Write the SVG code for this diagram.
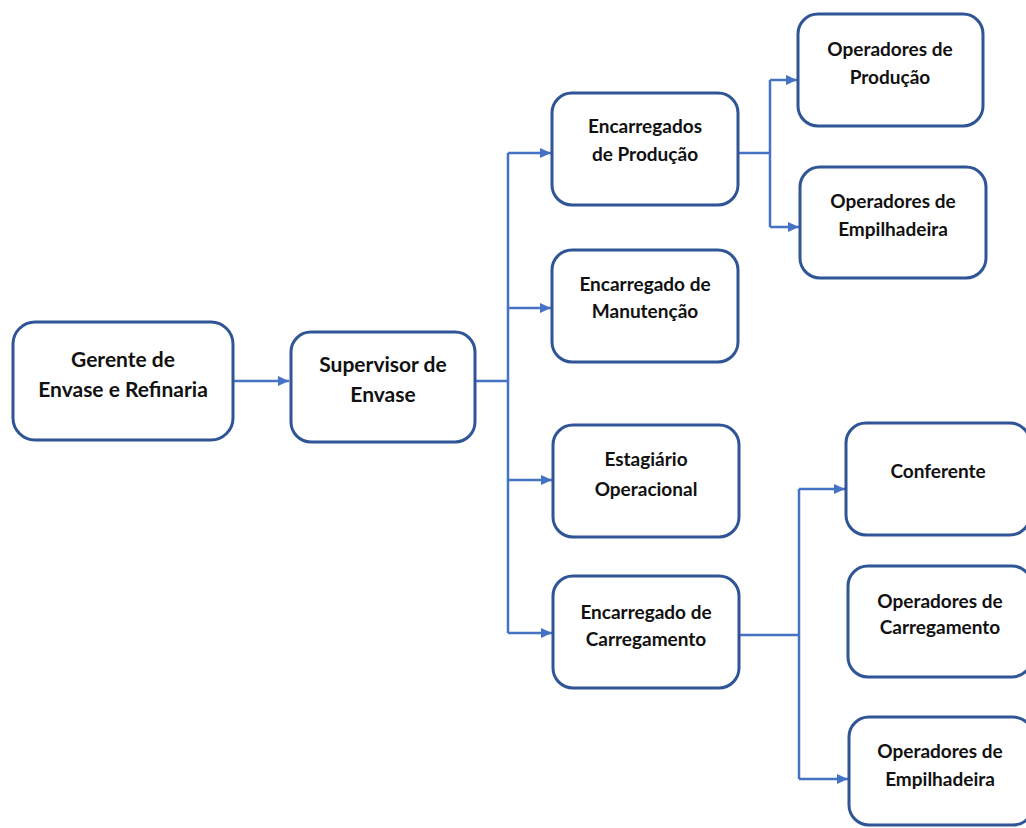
<svg xmlns="http://www.w3.org/2000/svg" width="1026" height="828" viewBox="0 0 1026 828">
<defs>
<style>
.box{fill:#fff;stroke:#2F5597;stroke-width:3}
.t{font-family:Lato,"Liberation Sans",sans-serif;font-weight:bold;font-size:19px;fill:#111;text-anchor:middle}
.tb{font-size:21px}
.c{fill:none;stroke:#4472C4;stroke-width:2.5}
</style>
<marker id="ah" markerUnits="userSpaceOnUse" markerWidth="12" markerHeight="10" refX="11" refY="5" orient="auto">
<path d="M0,0 L11,5 L0,10 Z" fill="#4472C4"/>
</marker>
</defs>
<rect width="1026" height="828" fill="#fff"/>
<g id="connectors">
<path class="c" d="M233,381 H289" marker-end="url(#ah)"/>
<path class="c" d="M475,381 H508"/>
<path class="c" d="M508,153 V633"/>
<path class="c" d="M508,153 H551" marker-end="url(#ah)"/>
<path class="c" d="M508,308 H551" marker-end="url(#ah)"/>
<path class="c" d="M508,480 H552" marker-end="url(#ah)"/>
<path class="c" d="M508,633 H552" marker-end="url(#ah)"/>
<path class="c" d="M738,153 H770"/>
<path class="c" d="M770,80 V227"/>
<path class="c" d="M770,80 H797" marker-end="url(#ah)"/>
<path class="c" d="M770,227 H799" marker-end="url(#ah)"/>
<path class="c" d="M739,635 H799"/>
<path class="c" d="M799,489 V779"/>
<path class="c" d="M799,489 H845" marker-end="url(#ah)"/>
<path class="c" d="M799,779 H848" marker-end="url(#ah)"/>
</g>
<g id="gerente">
<rect class="box" x="13" y="322" width="220" height="118" rx="22"/>
<text class="t tb" x="123" y="367">Gerente de</text>
<text class="t tb" x="123" y="397">Envase e Refinaria</text>
</g>
<g id="supervisor">
<rect class="box" x="291" y="332" width="184" height="110" rx="20"/>
<text class="t tb" x="383" y="372">Supervisor de</text>
<text class="t tb" x="383" y="402">Envase</text>
</g>
<g id="enc-producao">
<rect class="box" x="552" y="93" width="186" height="112" rx="20"/>
<text class="t" x="645" y="133">Encarregados</text>
<text class="t" x="645" y="161">de Produção</text>
</g>
<g id="enc-manutencao">
<rect class="box" x="552" y="250" width="186" height="112" rx="20"/>
<text class="t" x="645" y="291">Encarregado de</text>
<text class="t" x="645" y="318">Manutenção</text>
</g>
<g id="estagiario">
<rect class="box" x="553" y="425" width="186" height="112" rx="20"/>
<text class="t" x="646" y="466">Estagiário</text>
<text class="t" x="646" y="496">Operacional</text>
</g>
<g id="enc-carregamento">
<rect class="box" x="553" y="576" width="186" height="112" rx="20"/>
<text class="t" x="646" y="619">Encarregado de</text>
<text class="t" x="646" y="646">Carregamento</text>
</g>
<g id="op-producao">
<rect class="box" x="798" y="14" width="185" height="112" rx="20"/>
<text class="t" x="890" y="56">Operadores de</text>
<text class="t" x="890" y="84">Produção</text>
</g>
<g id="op-empilhadeira-1">
<rect class="box" x="800" y="167" width="186" height="111" rx="20"/>
<text class="t" x="893" y="208">Operadores de</text>
<text class="t" x="893" y="236">Empilhadeira</text>
</g>
<g id="conferente">
<rect class="box" x="846" y="423" width="184" height="112" rx="20"/>
<text class="t" x="938" y="478">Conferente</text>
</g>
<g id="op-carregamento">
<rect class="box" x="848" y="566" width="184" height="111" rx="20"/>
<text class="t" x="940" y="608">Operadores de</text>
<text class="t" x="940" y="634">Carregamento</text>
</g>
<g id="op-empilhadeira-2">
<rect class="box" x="849" y="717" width="184" height="108" rx="20"/>
<text class="t" x="940" y="758">Operadores de</text>
<text class="t" x="940" y="786">Empilhadeira</text>
</g>
</svg>
